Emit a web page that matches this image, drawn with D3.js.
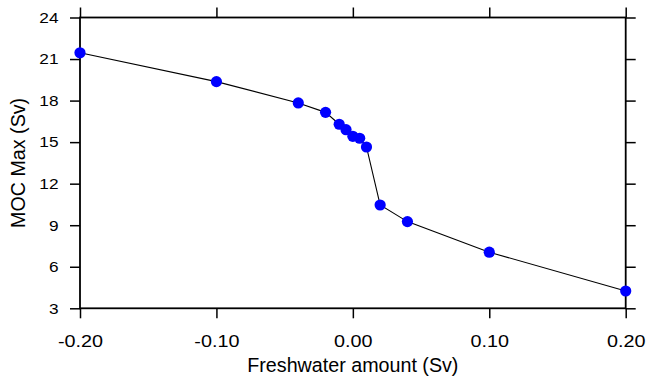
<!DOCTYPE html>
<html>
<head>
<meta charset="utf-8">
<script src="https://cdn.jsdelivr.net/npm/d3@7"></script>
<style>
  html, body { margin: 0; padding: 0; background: #fff; }
  svg { display: block; }
</style>
</head>
<body>
<div id="chart"></div>
<script>
// freshwater forcing (Sv) and the resulting max overturning (Sv)
const freshwater = [-0.20, -0.10, -0.04, -0.02, -0.01, -0.005, 0.0, 0.005, 0.01, 0.02, 0.04, 0.10, 0.20];
const mocMax = [21.45, 19.37, 17.83, 17.15, 16.29, 15.9, 15.42, 15.28, 14.65, 10.46, 9.26, 7.05, 4.25];

const xMajorTicks = [-0.2, -0.1, 0.0, 0.1, 0.2];
const xMinorTicks = d3.range(-10, 11).map((i) => i * 0.02);
const yMajorTicks = [3, 6, 9, 12, 15, 18, 21, 24];
const yMinorTicks = d3.range(3, 25);

const width = 646;
const height = 383;
const margin = { top: 17.5, right: 20.3, bottom: 74.7, left: 80 };

// plain hyphen for negative numbers, like the original
const locale = d3.formatLocale({ decimal: '.', thousands: ',', grouping: [3], currency: ['', ''], minus: '-' });
const fmtX = locale.format('.2f');

const x = d3.scaleLinear().domain([-0.2, 0.2]).range([margin.left, width - margin.right]);
const y = d3.scaleLinear().domain([3, 24]).range([height - margin.bottom, margin.top]);

const svg = d3.select('#chart')
  .append('svg')
  .attr('width', width)
  .attr('height', height)
  .attr('font-family', '"Liberation Sans", Arial, Helvetica, sans-serif');

// draws one side of the frame: major ticks (with or without labels) + minor ticks
// the tick font of the original is wider than Arial, so labels get stretched a bit
function frameAxis(axisFn, scale, translate, majors, minors, fmt, fontSize, pad, stretch) {
  const g = svg.append('g').attr('transform', translate);
  g.call(axisFn(scale).tickValues(minors).tickSize(5).tickFormat(''));
  g.call(axisFn(scale).tickValues(majors).tickSize(10).tickPadding(pad || 0)
    .tickFormat(fmt || ''));
  g.selectAll('.domain').remove();
  g.selectAll('line').attr('stroke', '#000').attr('stroke-width', 1.5);
  g.selectAll('text')
    .attr('fill', '#000')
    .attr('font-size', fontSize)
    .attr('x', function () { return (+this.getAttribute('x') || 0) / stretch; })
    .attr('transform', `scale(${stretch},1)`);
  return g;
}

frameAxis(d3.axisBottom, x, `translate(0,${y(3)})`, xMajorTicks, xMinorTicks, fmtX, 16.5, 17, 1.2);
frameAxis(d3.axisTop, x, `translate(0,${y(24)})`, xMajorTicks, xMinorTicks, null, 16.5, 0, 1);
frameAxis(d3.axisLeft, y, `translate(${x(-0.2)},0)`, yMajorTicks, yMinorTicks, d3.format('d'), 15, 11.5, 1.15);
frameAxis(d3.axisRight, y, `translate(${x(0.2)},0)`, yMajorTicks, yMinorTicks, null, 15, 0, 1);

// frame
svg.append('rect')
  .attr('x', x(-0.2))
  .attr('y', y(24))
  .attr('width', x(0.2) - x(-0.2))
  .attr('height', y(3) - y(24))
  .attr('fill', 'none')
  .attr('stroke', '#000')
  .attr('stroke-width', 1.8);

const I = d3.range(freshwater.length);

const line = d3.line()
  .x((i) => x(freshwater[i]))
  .y((i) => y(mocMax[i]));

svg.append('path')
  .attr('d', line(I))
  .attr('fill', 'none')
  .attr('stroke', '#000')
  .attr('stroke-width', 1.1);

svg.append('g')
  .attr('fill', '#0000ff')
  .selectAll('circle')
  .data(I)
  .join('circle')
  .attr('cx', (i) => x(freshwater[i]))
  .attr('cy', (i) => y(mocMax[i]))
  .attr('r', 5.6);

// axis titles
svg.append('text')
  .attr('x', (x(-0.2) + x(0.2)) / 2)
  .attr('y', 372)
  .attr('text-anchor', 'middle')
  .attr('font-size', 19.7)
  .text('Freshwater amount (Sv)');

svg.append('text')
  .attr('transform', `translate(25,${(y(3) + y(24)) / 2}) rotate(-90)`)
  .attr('text-anchor', 'middle')
  .attr('font-size', 19.7)
  .text('MOC Max (Sv)');
</script>
</body>
</html>
